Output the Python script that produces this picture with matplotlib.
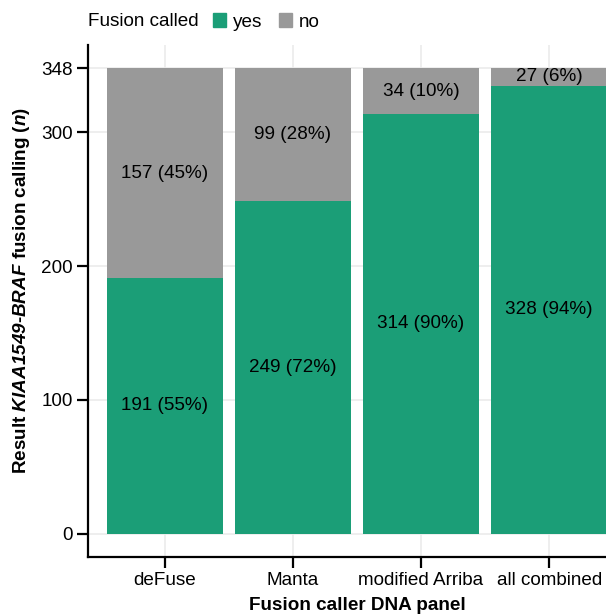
import matplotlib
matplotlib.use("Agg")
import matplotlib.pyplot as plt
from matplotlib.patches import Patch

plt.rcParams['font.family'] = ['Liberation Sans', 'DejaVu Sans']
plt.rcParams['mathtext.fontset'] = 'custom'
plt.rcParams['mathtext.rm'] = 'Liberation Sans:italic:bold'
plt.rcParams['mathtext.it'] = 'Liberation Sans:italic:bold'

# data
callers = ['deFuse', 'Manta', 'modified Arriba', 'all combined']
yes_n = [191, 249, 314, 335]
no_n = [157, 99, 34, 13]
yes_labels = ['191 (55%)', '249 (72%)', '314 (90%)', '328 (94%)']
no_labels = ['157 (45%)', '99 (28%)', '34 (10%)', '27 (6%)']
y_ticks = [0, 100, 200, 300, 348]

green = '#1b9e77'
grey = '#999999'
fs = 13.6

W, H = 606, 614
fig = plt.figure(figsize=(W / 100, H / 100), dpi=100)
# panel runs past the right edge like the original crop
ax = fig.add_axes([88 / W, 57 / H, (626 - 88) / W, (557 - 45) / H])

x = list(range(len(callers)))
ax.bar(x, yes_n, width=0.9, color=green, zorder=2)
ax.bar(x, no_n, width=0.9, bottom=yes_n, color=grey, zorder=2)

for i in x:
    ax.text(i, yes_n[i] / 2, yes_labels[i], ha='center', va='center', fontsize=fs, zorder=3)
    ax.text(i, yes_n[i] + no_n[i] / 2, no_labels[i], ha='center', va='center', fontsize=fs, zorder=3)

ax.set_xlim(-0.6, 3.6)
ax.set_ylim(-17.4, 365.4)
ax.set_xticks(x)
ax.set_xticklabels(callers, fontsize=fs)
ax.set_yticks(y_ticks)
ax.set_yticklabels([str(t) for t in y_ticks], fontsize=fs)
ax.grid(True, color='#ebebeb', linewidth=1.2, zorder=0)
ax.set_axisbelow(True)

for s in ['top', 'right']:
    ax.spines[s].set_visible(False)
for s in ['left', 'bottom']:
    ax.spines[s].set_linewidth(1.6)
ax.tick_params(length=8, width=1.6, pad=3, colors='black')

fig.text(22 / W, 1 - 291 / H,
         r'Result $\mathrm{KIAA1549}$-$\mathrm{BRAF}$ fusion calling ($\mathrm{n}$)',
         rotation=90, ha='center', va='center', fontsize=fs, fontweight='bold')
fig.text(357 / W, 1 - 606 / H, 'Fusion caller DNA panel',
         ha='center', va='center', fontsize=fs, fontweight='bold')

# legend
fig.text(88 / W, 1 - 22 / H, 'Fusion called', ha='left', va='center', fontsize=fs)
handles = [Patch(color=green, label='yes'), Patch(color=grey, label='no')]
fig.legend(handles=handles, loc='center left', bbox_to_anchor=(213 / W, 1 - 22 / H),
           ncol=2, frameon=False, fontsize=fs, borderpad=0, borderaxespad=0,
           handlelength=0.7, handleheight=0.7, handletextpad=0.35,
           columnspacing=0.9)

fig.savefig('out.png', dpi=100)
